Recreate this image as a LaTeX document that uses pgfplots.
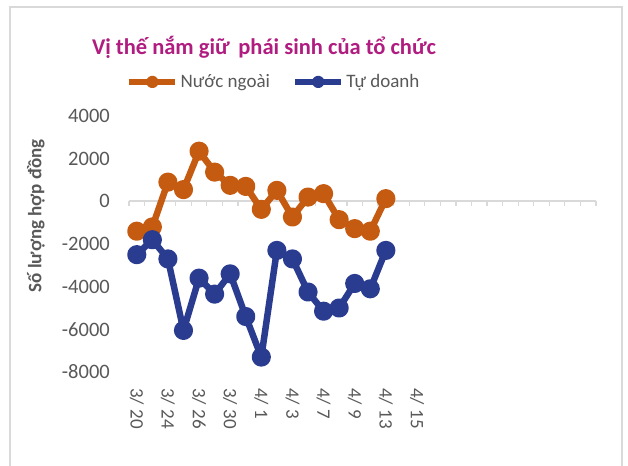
\documentclass[border=0pt]{standalone}
\usepackage{pgfplots}
\pgfplotsset{compat=1.18}
\usepackage{fontspec}
\setmainfont{Carlito}
\definecolor{orangeS}{HTML}{C55A11}
\definecolor{blueS}{HTML}{2A3C90}
\definecolor{titleC}{HTML}{B01C7F}
\definecolor{txtC}{HTML}{595959}
\definecolor{gridC}{HTML}{D9D9D9}
\begin{document}
\begin{tikzpicture}
\path[use as bounding box, fill=white] (0pt,0pt) rectangle (628pt,465pt);
\draw[gridC, line width=1.2pt] (10pt,-2pt) -- (10pt,458pt) -- (622pt,458pt) -- (622pt,-2pt);
\node[font=\fontsize{22.5}{27}\selectfont\bfseries, text=titleC] at (264pt,418pt) {Vị thế nắm giữ\, phái sinh của tổ chức};
\node[font=\fontsize{19}{23}\selectfont\bfseries, text=txtC, rotate=90] at (36pt,249pt) {Số lượng hợp đồng};
\begin{axis}[
  at={(129pt,93pt)}, anchor=south west, scale only axis,
  width=467pt, height=256pt,
  xmin=-0.5, xmax=29.5, ymin=-8000, ymax=4000,
  clip=false,
  axis line style={draw=none},
  major tick length=0pt,
  xtick={0,2,...,18},
  xticklabels={3/ 20,3/ 24,3/ 26,3/ 30,4/ 1,4/ 3,4/ 7,4/ 9,4/ 13,4/ 15},
  ytick={-8000,-6000,-4000,-2000,0,2000,4000},
  yticklabels={-8000,-6000,-4000,-2000,0,2000,4000},
  xticklabel style={rotate=-90, anchor=west, inner sep=0pt, font=\fontsize{19}{22}\selectfont, text=txtC},
  yticklabel style={anchor=east, inner sep=0pt, font=\fontsize{20.5}{24}\selectfont, text=txtC},
  xticklabel shift=16pt,
  yticklabel shift=19pt,
  legend style={at={(0.31,1.133)}, anchor=center, draw=none, fill=none,
    font=\fontsize{19}{23}\selectfont, text=txtC, legend columns=2,
    /tikz/every even column/.append style={column sep=20pt},
    /tikz/every odd column/.append style={column sep=0pt},
    inner sep=0pt},
  legend cell align=left,
  legend image code/.code={\draw[mark repeat=2,mark phase=2,#1, mark size=3pt] plot coordinates {(0pt,0pt) (23pt,0pt) (46pt,0pt)};},
]
\addplot[gridC, line width=2pt, forget plot] coordinates {(-0.5,0) (29.5,0)};
\addplot[ycomb, gridC, line width=1.2pt, mark=none, forget plot] coordinates {
(-0.5,-200) (0.5,-200) (1.5,-200) (2.5,-200) (3.5,-200) (4.5,-200) (5.5,-200) (6.5,-200)
(7.5,-200) (8.5,-200) (9.5,-200) (10.5,-200) (11.5,-200) (12.5,-200) (13.5,-200) (14.5,-200)
(15.5,-200) (16.5,-200) (17.5,-200) (18.5,-200) (19.5,-200) (20.5,-200) (21.5,-200) (22.5,-200)
(23.5,-200) (24.5,-200) (25.5,-200) (26.5,-200) (27.5,-200) (28.5,-200) (29.5,-200)};
\addplot[orangeS, line width=6.5pt, mark=*, mark size=6.3pt, line join=round] coordinates {
(0,-1400) (1,-1200) (2,900) (3,550) (4,2350) (5,1370) (6,750) (7,700) (8,-375)
(9,515) (10,-735) (11,200) (12,360) (13,-860) (14,-1280) (15,-1400) (16,125)};
\addlegendentry{Nước ngoài}
\addplot[blueS, line width=6.5pt, mark=*, mark size=6.3pt, line join=round] coordinates {
(0,-2500) (1,-1800) (2,-2700) (3,-6050) (4,-3600) (5,-4350) (6,-3400) (7,-5400) (8,-7300)
(9,-2300) (10,-2700) (11,-4250) (12,-5150) (13,-5000) (14,-3850) (15,-4100) (16,-2300)};
\addlegendentry{Tự doanh}
\end{axis}
\end{tikzpicture}
\end{document}
